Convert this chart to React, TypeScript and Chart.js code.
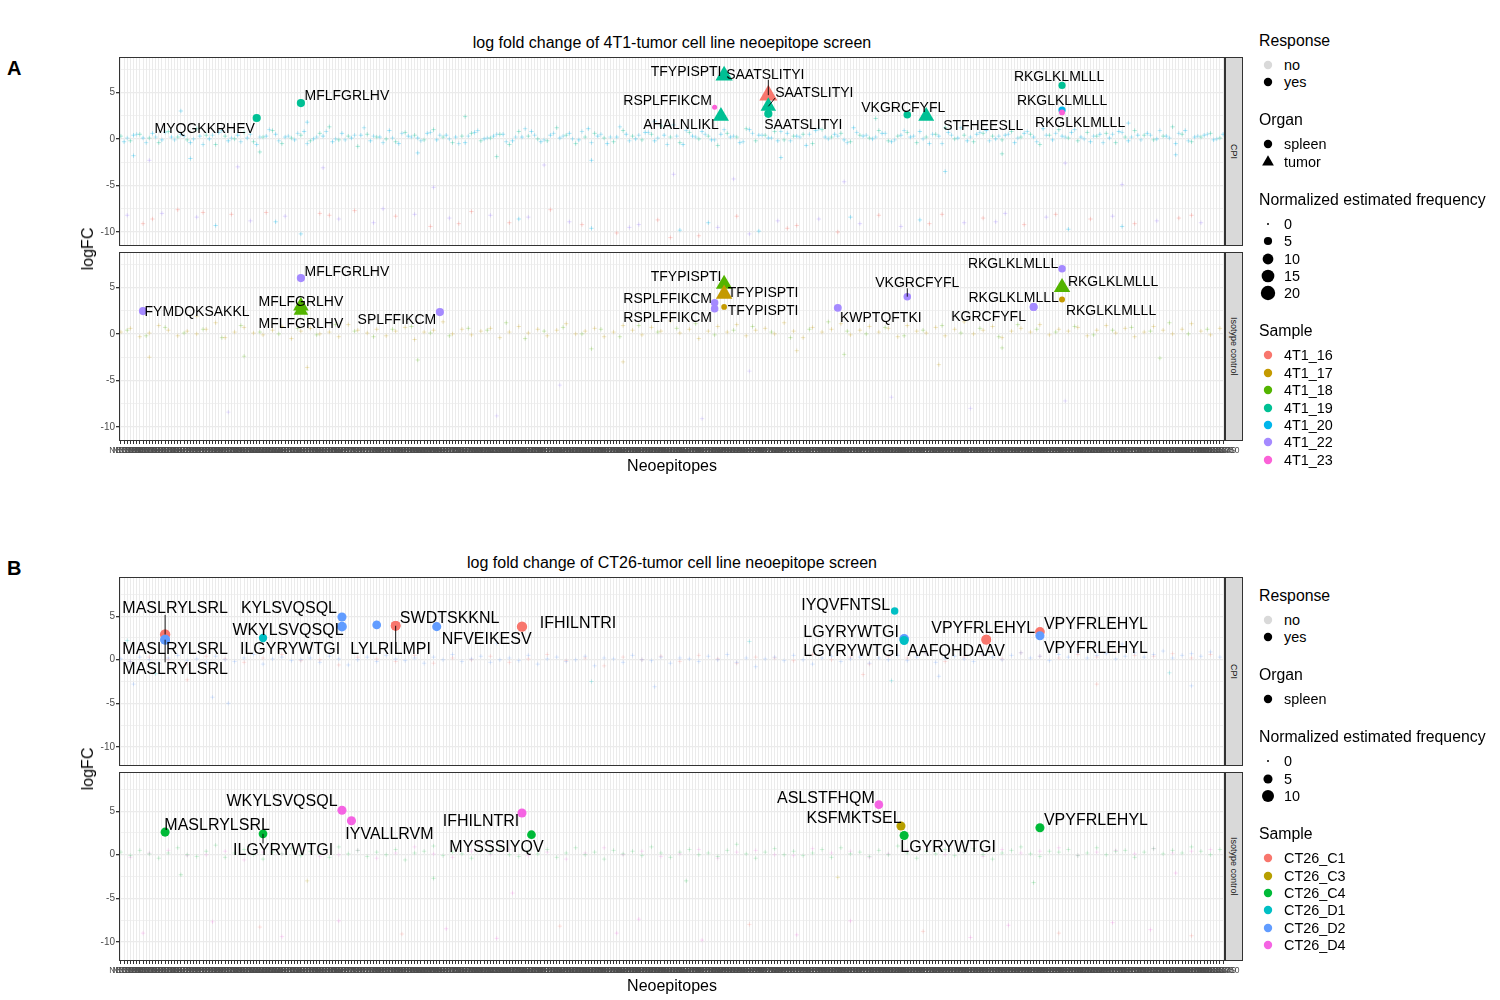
import React, { useEffect, useRef } from "react";
import { Chart, registerables } from "chart.js";

Chart.register(...registerables);

const FONT = '"Liberation Sans", Arial, Helvetica, sans-serif';

// ---------------- categories (neoepitopes on the x axis) ----------------
const N_NEO_A = 350;
const N_NEO_B = 350;

// ---------------- samples ----------------
const samplesA = ["4T1_16", "4T1_17", "4T1_18", "4T1_19", "4T1_20", "4T1_22", "4T1_23"];
const colorsA = ["#F8766D", "#C49A00", "#53B400", "#00C094", "#00B6EB", "#A58AFF", "#FB61D7"];
const samplesB = ["CT26_C1", "CT26_C3", "CT26_C4", "CT26_D1", "CT26_D2", "CT26_D4"];
const colorsB = ["#F8766D", "#B79F00", "#00BA38", "#00BFC4", "#619CFF", "#F564E3"];

const responseLevels = ["no", "yes"];
const organLevelsA = ["spleen", "tumor"];
const organLevelsB = ["spleen"];
const freqBreaksA = [0, 5, 10, 15, 20];
const freqBreaksB = [0, 5, 10];
const yTickValues = [-10, -5, 0, 5];
const yGridValues = [-10, -7.5, -5, -2.5, 0, 2.5, 5, 7.5];

// ---------------- responding neoepitopes: [label, neoepitope index, logFC, sample, organ(0 spleen / 1 tumor), norm. freq] ----------------
const hitsA_CPI: [string, number, number, number, number, number][] = [
  ["MYQGKKRHEV", 44, 2.25, 3, 0, 5],
  ["MFLFGRLHV", 58, 3.85, 3, 0, 5],
  ["TFYPISPTI", 192, 6.8, 3, 1, 18],
  ["SAATSLITYI", 206, 4.7, 0, 1, 20],
  ["SAATSLITYI", 206, 3.5, 3, 1, 14],
  ["SAATSLITYI", 206, 2.7, 3, 0, 5],
  ["RSPLFFIKCM", 189, 3.4, 6, 0, 1.2],
  ["AHALNLIKL", 191, 2.45, 3, 1, 15],
  ["VKGRCFYFL", 250, 2.6, 3, 0, 4],
  ["STFHEESLL", 256, 2.45, 3, 1, 15],
  ["RKGLKLMLLL", 299, 5.75, 3, 0, 3.5],
  ["RKGLKLMLLL", 299, 3.1, 4, 0, 3.5],
  ["RKGLKLMLLL", 299, 2.85, 6, 0, 2],
];
const hitsA_ISO: [string, number, number, number, number, number][] = [
  ["FYMDQKSAKKL", 8, 2.45, 5, 0, 5],
  ["MFLFGRLHV", 58, 6.0, 5, 0, 5],
  ["MFLFGRLHV", 58, 3.0, 2, 1, 14],
  ["MFLFGRLHV", 58, 2.5, 2, 1, 12],
  ["SPLFFIKCM", 102, 2.35, 5, 0, 5],
  ["TFYPISPTI", 192, 5.35, 2, 1, 16],
  ["TFYPISPTI", 192, 4.3, 1, 1, 16],
  ["TFYPISPTI", 192, 2.9, 1, 0, 1.8],
  ["RSPLFFIKCM", 189, 3.35, 5, 0, 4],
  ["RSPLFFIKCM", 189, 2.7, 5, 0, 4],
  ["KWPTQFTKI", 228, 2.8, 5, 0, 4.5],
  ["VKGRCFYFL", 250, 4.0, 5, 0, 4],
  ["RKGLKLMLLL", 290, 2.9, 5, 0, 4.5],
  ["KGRCFYFL", 290, 2.9, 5, 0, 4.5],
  ["RKGLKLMLLL", 299, 7.0, 5, 0, 4],
  ["RKGLKLMLLL", 299, 5.0, 2, 1, 16],
  ["RKGLKLMLLL", 299, 3.7, 1, 0, 2],
];
const hitsB_CPI: [string, number, number, number, number, number][] = [
  ["MASLRYLSRL", 15, 2.9, 0, 0, 7],
  ["MASLRYLSRL", 15, 2.3, 4, 0, 6],
  ["MASLRYLSRL", 15, 2.3, 4, 0, 6],
  ["KYLSVQSQL", 71, 4.9, 4, 0, 5],
  ["WKYLSVQSQL", 71, 3.8, 4, 0, 6],
  ["ILGYRYWTGI", 46, 2.5, 3, 0, 4],
  ["", 82, 4.0, 4, 0, 4.5],
  ["LYLRILMPI", 88, 3.9, 0, 0, 6],
  ["SWDTSKKNL", 88, 3.9, 0, 0, 6],
  ["NFVEIKESV", 101, 3.8, 4, 0, 5],
  ["IFHILNTRI", 128, 3.8, 0, 0, 7],
  ["IYQVFNTSL", 246, 5.6, 3, 0, 3],
  ["LGYRYWTGI", 249, 2.4, 4, 0, 6],
  ["LGYRYWTGI", 249, 2.2, 3, 0, 5],
  ["VPYFRLEHYL", 275, 2.3, 0, 0, 6],
  ["AAFQHDAAV", 275, 2.3, 0, 0, 6],
  ["VPYFRLEHYL", 292, 3.2, 0, 0, 6],
  ["VPYFRLEHYL", 292, 2.75, 4, 0, 5],
];
const hitsB_ISO: [string, number, number, number, number, number][] = [
  ["MASLRYLSRL", 15, 2.6, 2, 0, 5],
  ["ILGYRYWTGI", 46, 2.4, 2, 0, 4.5],
  ["WKYLSVQSQL", 71, 5.1, 5, 0, 5],
  ["IYVALLRVM", 74, 3.9, 5, 0, 5],
  ["IFHILNTRI", 128, 4.8, 5, 0, 5],
  ["MYSSSIYQV", 131, 2.3, 2, 0, 4.5],
  ["ASLSTFHQM", 241, 5.75, 5, 0, 4.5],
  ["KSFMKTSEL", 248, 3.3, 1, 0, 5],
  ["LGYRYWTGI", 249, 2.2, 2, 0, 5],
  ["VPYFRLEHYL", 292, 3.1, 2, 0, 5],
];

// ---------------- label placement (pixel nudges from the point, [dx, dy, segment]) ----------------
const nudgeA_CPI = [[-52, 11, 0], [46, -7, 0], [-38, -4, 0], [-3, -21, 1], [46, -14, 1], [35, 11, 0], [-47, -7, 0], [-40, 9, 0], [-4, -7, 0], [57, 10, 0], [-3, -9, 0], [0, -9, 0], [18, 10, 0]];
const nudgeA_ISO = [[54, 1, 0], [46, -6, 0], [0, -4, 0], [0, 13, 0], [-43, 8, 0], [-38, -7, 0], [39, -1, 0], [39, 4, 0], [-47, -4, 0], [-47, 9, 0], [43, 10, 0], [10, -14, 1], [-20, -9, 0], [-45, 10, 0], [-49, -5, 0], [51, -6, 0], [49, 11, 0]];
const nudgeB_CPI = [[10, -26, 1], [10, 9, 0], [10, 29, 1], [-53, -9, 0], [-54, 3, 0], [27, 11, 0], [0, 0, 0], [-5, 23, 1], [54, -8, 0], [50, 12, 0], [56, -4, 0], [-49, -6, 0], [-53, -7, 0], [-53, 11, 0], [-3, -12, 0], [-30, 11, 0], [56, -8, 0], [56, 12, 0]];
const nudgeB_ISO = [[52, -7, 0], [20, 16, 1], [-60, -9, 0], [38, 13, 0], [-41, 8, 0], [-35, 12, 0], [-53, -7, 0], [-47, -8, 0], [44, 12, 0], [56, -8, 0]];

// ---------------- non-responding neoepitopes (logFC of every 3rd / 6th neoepitope) ----------------
const bgA_CPI_s19 = [0.3,-0.2,0.5,0.1,-0.4,0.8,0.2,-0.1,1.1,0.4,-0.6,0.3,0.0,0.7,-0.3,0.2,0.9,-0.5,0.1,0.4,
-0.2,0.6,1.3,-0.1,0.3,-0.8,0.5,0.2,0.0,-0.3,0.7,0.4,-0.1,1.0,0.2,-0.4,0.3,0.6,-0.2,0.1,
0.5,-0.6,0.8,0.3,0.0,-0.2,1.2,0.4,-0.5,0.2,0.6,0.1,-0.3,0.9,0.3,-0.1,0.5,1.4,0.2,-0.4,
0.7,0.0,0.3,-0.7,0.6,0.2,1.1,-0.2,0.4,0.8,-0.1,0.3,0.5,-0.5,1.0,0.2,0.6,-0.3,0.4,0.1,
0.9,-0.2,0.3,0.7,-0.4,0.2,0.5,1.2,0.0,0.4,-0.3,0.6,0.3,-0.1,0.8,0.2,0.5,-0.6,0.4,1.0,
0.1,-0.2,0.7,0.3,0.6,-0.4,0.2,0.9,0.4,-0.1,0.3,1.3,0.5,-0.3,0.2,0.6,0.1];
const bgA_CPI_s20 = [-0.3,0.4,0.1,0.6,-0.1,0.2,0.5,-0.4,0.3,0.0,0.7,-0.2,0.4,0.1,-0.6,0.3,0.5,0.2,-0.1,0.8,
0.0,0.3,-0.3,0.6,0.1,0.4,-0.2,0.2,0.9,-0.5,0.3,0.1,0.6,-0.1,0.4,0.2,-0.4,0.7,0.0,0.3,
0.5,-0.2,0.2,0.8,-0.3,0.4,0.1,0.6,-0.1,1.1,0.3,-0.5,0.2,0.5,0.0,0.7,-0.2,0.4,1.5,-0.6,
0.3,0.8,-0.1,0.5,0.2,-0.4,1.0,0.4,0.1,-0.2,0.6,0.3,-0.7,0.9,0.2,0.5,-0.1,1.2,0.3,0.0,
0.6,-0.3,0.4,0.2,0.8,-0.5,0.3,0.7,0.1,-0.2,0.5,0.9,0.0,0.4,-0.4,0.6,0.2,1.1,-0.1,0.3,
0.7,0.2,-0.3,0.5,0.1,0.8,-0.2,0.4,0.6,0.0,0.3,-0.5,0.9,0.2,0.4,-0.1,0.5];
const bgA_CPI_s16 = [0.1,0.5,-0.4,0.2,0.7,-0.1,0.3,0.0,-0.6,0.4,0.9,0.1,-0.3,0.5,0.2,1.0,-0.2,0.3,0.6,-0.5,
0.2,0.8,0.0,-0.1,0.4,1.2,0.3,-0.4,0.1,0.6,0.2,-0.2,0.7,0.4,0.0,-0.5,0.3,0.9,0.1,0.5,
-0.3,0.2,1.1,0.4,-0.1,0.6,0.3,0.0,0.8,-0.4,0.5,0.2,1.3,-0.2,0.4,0.7,0.1,-0.6,0.3,0.9,
0.2,0.5,-0.1,1.0,0.3,-0.3,0.6,0.4,0.1,0.8,-0.2,0.2,0.5,1.1,0.0,0.3,-0.4,0.7,0.4,0.2,
0.6,-0.1,0.9,0.3,0.0,0.5,-0.5,0.4,1.2,0.2,0.7,-0.2,0.3,0.5,0.1,0.8,-0.3,0.4,0.6,0.2,
1.0,0.0,0.3,-0.4,0.5,0.7,0.2,-0.1,0.4,0.9,0.1,0.6,-0.2,0.3,0.5,0.0,0.4];
const bgA_CPI_low: [number, number, number][] = [
[3,-8.2,5],[8,-9.1,0],[14,-8.0,5],[19,-7.6,0],[25,-8.4,5],[31,-9.3,4],[36,-8.1,0],[42,-8.8,5],[47,-7.9,0],[53,-8.3,5],
[58,-10.2,4],[64,-8.0,0],[70,-8.6,5],[75,-7.7,0],[81,-9.0,5],[88,-8.3,0],[94,-8.1,5],[99,-9.4,0],[105,-8.5,5],[112,-7.8,0],
[118,-8.2,5],[124,-9.0,0],[130,-8.4,5],[137,-7.6,0],[143,-8.9,5],[150,-9.6,4],[158,-10.1,0],[165,-9.2,5],[171,-8.7,0],[178,-9.8,4],
[184,-10.4,0],[190,-9.5,5],[196,-8.3,0],[203,-9.9,4],[209,-8.8,5],[215,-9.3,0],[222,-8.6,5],[228,-10.0,0],[235,-9.1,5],[241,-8.2,0],
[248,-9.4,5],[254,-8.7,4],[261,-8.1,0],[268,-9.0,5],[274,-8.5,0],[281,-8.0,5],[287,-9.2,0],[294,-8.4,5],[301,-9.7,4],[308,-8.6,0],
[315,-8.3,5],[322,-9.1,0],[329,-8.8,5],[336,-8.5,0],[343,-9.0,5],
[11,-8.6,0],[27,-7.9,0],[50,-8.9,4],[67,-8.2,0],[84,-7.5,5],[108,-9.1,0],[127,-8.6,4],[147,-9.2,0],[162,-9.5,5],[175,-10.6,0],
[187,-9.0,4],[200,-10.2,5],[212,-9.6,0],[232,-8.4,4],[257,-9.1,0],[278,-8.9,5],[297,-8.1,0],[318,-9.4,4],[340,-8.2,0]];
const bgA_CPI_mid: [number, number, number][] = [
[10,-2.3,5],[23,-2.1,4],[38,-3.0,5],[65,-3.1,5],[95,-1.5,4],[100,-5.2,5],[135,-2.8,5],[150,-2.3,4],[176,-3.8,5],[195,-4.3,5],
[230,-4.6,5],[262,-3.5,4],[300,-2.6,5],[318,-4.9,5],[5,-1.8,4],[45,-1.4,3],[120,-1.9,3],[210,-2.0,4],[280,-1.6,3],[335,-1.7,4],
[20,3.0,4],[60,1.8,4],[110,2.4,3],[170,1.9,4],[240,2.2,3],[320,1.7,4]];

const bgA_ISO_s17 = [0.2,0.6,-0.3,0.1,0.9,0.4,-0.2,0.3,0.0,0.5,1.2,-0.4,0.2,0.7,0.1,-0.1,0.4,0.8,-0.5,0.3,
0.6,0.0,0.2,-0.3,1.0,0.4,0.1,0.5,-0.2,0.3,0.7,-0.6,0.2,0.4,1.3,0.0,0.5,-0.1,0.3,0.6,
-0.4,0.2,0.8,0.1,0.5,-0.2,0.4,1.1,0.0,0.3,0.6,-0.3,0.2,0.9,0.4,-0.1,0.7,0.3,1.4,0.1,
0.5,-0.5,0.3,0.8,0.2,1.0,-0.2,0.4,0.6,0.0,1.2,0.3,-0.4,0.7,0.2,0.5,1.1,-0.1,0.4,0.8,
0.2,0.6,-0.3,0.9,0.3,0.1,0.7,-0.2,0.5,1.3,0.0,0.4,0.8,-0.4,0.3,0.6,0.2,1.0,-0.1,0.5,
0.3,0.7,-0.2,0.4,0.9,0.1,0.6,-0.3,0.2,0.8,0.4,0.0,0.5,1.1,0.3,-0.1,0.6];
const bgA_ISO_s18 = [0.4,-0.2,0.7,0.1,0.5,-0.4,0.9,0.2,0.0,0.6,-0.1,1.0,0.3,-0.3,0.5,0.8,0.1,-0.2,0.6,0.4,
1.2,-0.5,0.3,0.7,0.0,0.5,-0.3,0.9,0.2,0.6,1.1,-0.1,0.4,0.8,0.2,-0.4,0.5,1.3,0.3,0.0,
0.7,-0.2,0.4,0.9,0.1,0.6,-0.3,1.0,0.5,0.2,0.8,-0.1,0.4,0.7,0.3,1.2,0.0,0.5];
const bgA_ISO_low: [number, number, number][] = [
[10,-2.5,1],[40,-2.4,2],[60,-3.6,1],[95,-2.8,2],[140,-5.5,5],[160,-3.0,1],[200,-4.0,5],[230,-2.2,2],[245,-6.8,5],[260,-3.3,1],
[300,-7.2,5],[330,-2.6,2],[35,-8.4,5],[120,-8.8,5],[185,-9.1,5],[270,-8.0,5],[150,-1.6,2],[215,-1.8,1],[280,-1.5,2],[25,1.9,1]];

const bgB_CPI_d2 = [0.1,-0.2,0.3,0.0,-0.4,0.2,0.5,-0.1,0.1,-0.3,0.4,0.0,-0.2,0.2,0.6,-0.5,0.1,0.3,-0.1,0.0,
0.2,-0.3,0.4,0.1,-0.6,0.0,0.3,-0.2,0.5,0.1,-0.1,0.2,-0.4,0.3,0.0,0.6,-0.2,0.1,0.4,-0.3,
0.0,0.2,-0.1,0.5,-0.5,0.1,0.3,-0.2,0.0,0.4,-0.7,0.2,0.1,-0.3,0.5,0.0,-0.1,0.3,-0.4,0.2,
0.1,-0.2,0.4,0.0,0.6,-0.3,0.2,-0.8,0.1,0.3,-0.1,0.5,0.0,-0.5,0.2,0.4,-0.2,0.1,0.3,-0.4,
0.2,0.0,0.5,-0.1,0.3,0.7,-0.3,0.2,0.4,0.1,-0.2,0.6,0.3,0.0,0.5,0.8,0.2,0.4,-0.1,0.6,
0.3,0.9,0.2,0.5,0.7,0.1,0.4,0.8,0.3,0.6,1.0,0.2,0.5,0.7,0.4,0.9,0.3];
const bgB_CPI_c1 = [-0.2,0.3,0.0,-0.5,0.4,0.1,-0.3,0.2,0.6,-0.1,0.0,-0.6,0.3,0.1,-0.2,0.5,-0.4,0.2,0.0,0.4,
-0.3,0.1,0.6,-0.1,0.2,-0.7,0.3,0.0,0.4,-0.2,0.5,0.1,-0.4,0.3,0.2,-0.1,0.6,0.0,0.3,-0.5,
0.4,0.2,0.7,-0.2,0.3,0.5,0.1,0.8,0.4,0.2,0.6,0.3,0.9,0.5,0.4,0.7,0.2,0.6];
const bgB_CPI_low: [number, number, number][] = [
[5,-2.8,4],[12,-1.6,3],[30,-4.3,4],[22,-2.3,0],[35,-5.0,4],[150,-2.5,3],[170,-3.1,4],[236,-1.7,0],[245,-2.4,3],[260,-1.9,4],
[310,-2.8,0],[333,-1.5,3],[340,-3.0,4],[3,2.2,3],[120,1.9,4],[200,2.1,3],[318,1.8,4]];

const bgB_ISO_c4 = [0.3,-0.1,0.5,0.1,-0.4,0.2,0.8,0.0,-0.2,0.4,1.1,-0.3,0.2,0.6,0.0,-0.5,0.3,0.1,0.7,-0.1,
0.4,0.2,-0.3,0.9,0.1,0.5,-0.2,0.3,0.0,0.6,-0.6,0.2,0.4,1.0,-0.1,0.3,0.1,-0.4,0.5,0.2,
0.7,0.0,-0.2,0.4,0.1,0.6,-0.3,0.2,0.8,0.0,0.3,-0.5,0.5,0.1,0.4,-0.1,0.9,0.2,-0.3,0.3,
0.6,0.0,0.2,-0.2,0.5,1.2,0.1,-0.4,0.3,0.7,0.0,0.4,-0.1,0.2,0.6,-0.3,0.8,0.1,0.3,-0.2,
0.5,0.0,1.0,0.2,-0.4,0.4,0.1,0.6,-0.1,0.3,0.7,0.0,-0.5,0.2,0.5,0.9,0.1,-0.2,0.4,0.3,
0.6,-0.1,0.2,0.8,0.0,0.4,0.5,-0.3,0.3,0.7,0.1,0.5,0.2,0.9,0.4,0.0,0.6];
const bgB_ISO_d4 = [-0.3,0.2,0.5,-0.1,0.0,0.4,-0.6,0.3,0.1,0.7,-0.2,0.0,0.5,-0.4,0.2,0.9,0.1,-0.3,0.4,0.0,
0.6,-0.1,0.3,-0.5,0.2,0.8,0.0,0.4,-0.2,0.1,0.6,-0.4,0.3,0.5,0.0,-0.1,0.7,0.2,0.4,-0.3,
0.1,0.5,0.9,0.0,0.3,-0.2,0.6,0.2,0.4,0.8,-0.1,0.3,0.5,0.1,0.7,0.2,0.4,0.6];
const bgB_ISO_low: [number, number, number][] = [
[8,-9.0,5],[30,-7.7,5],[45,-8.3,0],[52,-9.4,5],[70,-7.6,5],[90,-9.1,0],[104,-8.5,5],[120,-9.6,5],[140,-8.2,0],[158,-9.0,5],
[165,-7.4,5],[185,-9.8,5],[200,-8.0,0],[215,-9.2,5],[232,-7.6,5],[255,-8.8,0],[270,-9.5,5],[282,-8.1,5],[298,-9.0,0],[315,-7.8,5],
[327,-8.6,5],[340,-9.3,0],[20,-2.3,2],[60,-3.0,1],[100,-2.7,2],[125,-4.4,5],[180,-3.0,2],[228,-2.6,1],[290,-3.2,2],[335,-2.1,5]];

// ---------------- helpers ----------------
function rgba(hex: string, a: number) {
  const n = parseInt(hex.slice(1), 16);
  return `rgba(${(n >> 16) & 255},${(n >> 8) & 255},${n & 255},${a})`;
}

type Band = { vals: number[]; start: number; stride: number; s: number; a: number };

const TRIANGLE_SCALE = 1.45;

function Facet(props: any) {
  const ref = useRef<HTMLCanvasElement>(null);
  const { top, h, n, ymin, ymax, showX, hits, nudges, colors, bands, scatter, labelSize, rMax, fMax, bgAlpha } = props;
  const xAxisH = showX ? 20 : 0;
  const W = 1250;
  const H = h + 2 + xAxisH;
  useEffect(() => {
    const canvas = ref.current!;
    const radius = (f: number, organ: number) => (1 + (rMax - 1) * Math.sqrt(f / fMax)) * (organ ? TRIANGLE_SCALE : 1);
    const datasets: any[] = [];
    datasets.push({
      data: hits.map((t: any) => ({ x: t[1], y: t[2] })),
      pointStyle: hits.map((t: any) => (t[4] ? "triangle" : "circle")),
      pointRadius: hits.map((t: any) => radius(t[5], t[4])),
      pointBackgroundColor: hits.map((t: any) => colors[t[3]]),
      pointBorderWidth: 0,
      pointBorderColor: "rgba(0,0,0,0)",
      showLine: false,
    });
    bands.forEach((b: Band) => {
      datasets.push({
        data: b.vals.map((v, i) => ({ x: b.start + i * b.stride, y: v })),
        pointStyle: "cross",
        pointRadius: 2.2,
        pointBorderWidth: 1,
        pointBorderColor: rgba(colors[b.s], b.a),
        showLine: false,
      });
    });
    datasets.push({
      data: scatter.map((t: any) => ({ x: t[0], y: t[1] })),
      pointStyle: "cross",
      pointRadius: 2.2,
      pointBorderWidth: 1,
      pointBorderColor: scatter.map((t: any) => rgba(colors[t[2]], bgAlpha)),
      showLine: false,
    });

    const overlay = {
      id: "overlay",
      afterDatasetsDraw(chart: any) {
        const ctx = chart.ctx;
        const xs = chart.scales.x;
        const ys = chart.scales.y;
        ctx.save();
        ctx.font = `${labelSize}px ${FONT}`;
        ctx.textAlign = "center";
        ctx.textBaseline = "middle";
        hits.forEach((t: any, i: number) => {
          const lab = t[0];
          if (!lab) return;
          const [dx, dy, seg] = nudges[i];
          const px = xs.getPixelForValue(t[1]);
          const py = ys.getPixelForValue(t[2]);
          const lx = px + dx;
          const ly = py + dy;
          if (seg) {
            const w = ctx.measureText(lab).width;
            const hh = labelSize * 0.8;
            const cx = Math.max(lx - w / 2, Math.min(px, lx + w / 2));
            const cy = Math.max(ly - hh / 2, Math.min(py, ly + hh / 2));
            ctx.strokeStyle = "#000";
            ctx.lineWidth = 0.9;
            ctx.beginPath();
            ctx.moveTo(px, py);
            ctx.lineTo(cx, cy);
            ctx.stroke();
          }
          ctx.fillStyle = "#000";
          ctx.fillText(lab, lx, ly + 0.5);
        });
        const a = chart.chartArea;
        ctx.strokeStyle = "#333333";
        ctx.lineWidth = 1;
        ctx.strokeRect(a.left + 0.5, a.top + 0.5, a.right - a.left - 1, a.bottom - a.top - 1);
        ctx.restore();
      },
    };

    const chart = new Chart(canvas, {
      type: "scatter",
      data: { datasets },
      options: {
        animation: false,
        responsive: false,
        devicePixelRatio: 1,
        events: [],
        layout: { autoPadding: false, padding: { top: 1, bottom: 1, left: 0, right: W - 1225 } },
        plugins: { legend: { display: false }, tooltip: { enabled: false } },
        scales: {
          x: {
            type: "linear",
            min: 0.4,
            max: n + 0.6,
            afterFit: (s: any) => {
              s.height = xAxisH;
              s.paddingLeft = 0;
              s.paddingRight = 0;
              s.paddingTop = 0;
              s.paddingBottom = 0;
            },
            afterBuildTicks: (s: any) => {
              s.ticks = Array.from({ length: n }, (_, i) => ({ value: i + 1 }));
            },
            border: { display: false },
            grid: { color: "#EBEBEB", lineWidth: 1, drawTicks: showX, tickLength: 3, tickColor: "#333333" },
            ticks: {
              display: showX,
              autoSkip: false,
              maxRotation: 0,
              minRotation: 0,
              padding: 2,
              font: { family: FONT, size: 8.5 },
              color: "#4D4D4D",
              callback: (v: any) => "NEO" + v,
            },
          },
          y: {
            type: "linear",
            min: ymin,
            max: ymax,
            afterFit: (s: any) => {
              s.width = 119;
              s.paddingTop = 0;
              s.paddingBottom = 0;
              s.paddingLeft = 0;
              s.paddingRight = 0;
            },
            afterBuildTicks: (s: any) => {
              s.ticks = yGridValues.map((v) => ({ value: v }));
            },
            border: { display: false },
            grid: {
              color: "#EBEBEB",
              lineWidth: (c: any) => (c.tick && yTickValues.includes(c.tick.value) ? 1.3 : 0.7),
              drawTicks: true,
              tickLength: 3,
              tickColor: (c: any) => (c.tick && yTickValues.includes(c.tick.value) ? "#333333" : "rgba(0,0,0,0)"),
            },
            ticks: {
              autoSkip: false,
              padding: 1,
              font: { family: FONT, size: 10 },
              color: "#4D4D4D",
              callback: (v: any) => (yTickValues.includes(v) ? String(v) : ""),
            },
          },
        },
      } as any,
      plugins: [overlay],
    });
    return () => chart.destroy();
  }, []);
  return (
    <canvas
      ref={ref}
      width={W}
      height={H}
      style={{ position: "absolute", left: 0, top: top - 1, width: W, height: H }}
    />
  );
}

function Txt({ x, y, children, size = 14, anchor = "left", weight = 400, rotate = 0 }: any) {
  const tx = anchor === "center" ? "-50%" : "0";
  return (
    <div
      style={{
        position: "absolute",
        left: x,
        top: y,
        transform: `translate(${tx}, -50%) rotate(${rotate}deg)`,
        fontSize: size,
        fontFamily: FONT,
        fontWeight: weight,
        lineHeight: 1,
        whiteSpace: "nowrap",
        color: "#000",
      }}
    >
      {children}
    </div>
  );
}

function Strip({ top, h, text }: any) {
  return (
    <div
      style={{
        position: "absolute",
        left: 1225,
        top,
        width: 18,
        height: h,
        boxSizing: "border-box",
        background: "#D9D9D9",
        border: "1px solid #333333",
        display: "flex",
        alignItems: "center",
        justifyContent: "center",
      }}
    >
      <span style={{ writingMode: "vertical-rl", fontSize: 9, fontFamily: FONT, color: "#1A1A1A", whiteSpace: "nowrap" }}>{text}</span>
    </div>
  );
}

function Sym({ y, shape, r, color }: any) {
  return (
    <svg style={{ position: "absolute", left: 1258, top: y - 10 }} width={20} height={20}>
      {shape === "triangle" ? (
        <polygon points={`10,${10 - r} ${10 + r * 0.866},${10 + r * 0.5} ${10 - r * 0.866},${10 + r * 0.5}`} fill={color} />
      ) : (
        <circle cx={10} cy={10} r={r} fill={color} />
      )}
    </svg>
  );
}

function Legend({ top, organs, freqBreaks, samples, colors, rMax, fMax }: any) {
  const els: any[] = [];
  let y = top;
  const groups: any[] = [
    ["Response", responseLevels.map((l, i) => ({ text: l, shape: "circle", r: 4.2, color: i === 0 ? "#D9D9D9" : "#000" }))],
    ["Organ", organs.map((o: string) => ({ text: o, shape: o === "tumor" ? "triangle" : "circle", r: o === "tumor" ? 6.8 : 4.2, color: "#000" }))],
    ["Normalized estimated frequency", freqBreaks.map((f: number) => ({ text: String(f), shape: "circle", r: 1 + (rMax - 1) * Math.sqrt(f / fMax), color: "#000" }))],
    ["Sample", samples.map((s: string, i: number) => ({ text: s, shape: "circle", r: 4.2, color: colors[i] }))],
  ];
  groups.forEach(([title, entries], gi) => {
    els.push(<Txt key={"t" + gi} x={1259} y={y} size={15.8}>{title}</Txt>);
    let yy = y + 24;
    entries.forEach((e: any, i: number) => {
      els.push(<Sym key={`s${gi}_${i}`} y={yy} shape={e.shape} r={e.r} color={e.color} />);
      els.push(<Txt key={`l${gi}_${i}`} x={1284} y={yy} size={14.4}>{e.text}</Txt>);
      if (i < entries.length - 1) yy += 17.4;
    });
    y = yy + 38;
  });
  return <>{els}</>;
}

export default function App() {
  const bandsA_CPI: Band[] = [
    { vals: bgA_CPI_s19, start: 1, stride: 3, s: 3, a: 0.3 },
    { vals: bgA_CPI_s20, start: 2, stride: 3, s: 4, a: 0.32 },
    { vals: bgA_CPI_s16, start: 3, stride: 3, s: 4, a: 0.25 },
  ];
  const bandsA_ISO: Band[] = [
    { vals: bgA_ISO_s17, start: 1, stride: 3, s: 1, a: 0.24 },
    { vals: bgA_ISO_s18, start: 3, stride: 6, s: 2, a: 0.24 },
  ];
  const bandsB_CPI: Band[] = [
    { vals: bgB_CPI_d2, start: 1, stride: 3, s: 4, a: 0.2 },
    { vals: bgB_CPI_c1, start: 4, stride: 6, s: 0, a: 0.18 },
  ];
  const bandsB_ISO: Band[] = [
    { vals: bgB_ISO_c4, start: 1, stride: 3, s: 2, a: 0.16 },
    { vals: bgB_ISO_d4, start: 4, stride: 6, s: 5, a: 0.16 },
  ];
  const common = { h: 189 };
  return (
    <div style={{ position: "absolute", left: 0, top: 0, width: 1500, height: 1000, background: "#fff", overflow: "hidden" }}>
      {/* Panel A */}
      <Txt x={7} y={68} size={20} weight={700}>A</Txt>
      <Txt x={672} y={43} size={16} anchor="center">log fold change of 4T1-tumor cell line neoepitope screen</Txt>
      <Facet {...common} top={57} n={N_NEO_A} ymin={-11.5} ymax={8.8} showX={false} hits={hitsA_CPI} nudges={nudgeA_CPI}
        colors={colorsA} bands={bandsA_CPI} scatter={[...bgA_CPI_low, ...bgA_CPI_mid]} labelSize={14} rMax={7.2} fMax={20} bgAlpha={0.3} />
      <Strip top={57} h={189} text="CPI" />
      <Facet {...common} top={252} n={N_NEO_A} ymin={-11.5} ymax={8.8} showX={true} hits={hitsA_ISO} nudges={nudgeA_ISO}
        colors={colorsA} bands={bandsA_ISO} scatter={bgA_ISO_low} labelSize={14} rMax={7.2} fMax={20} bgAlpha={0.22} />
      <Strip top={252} h={189} text="Isotype control" />
      <Txt x={88} y={249} size={16} anchor="center" rotate={-90}>logFC</Txt>
      <Txt x={672} y={466} size={16} anchor="center">Neoepitopes</Txt>
      <Legend top={41} organs={organLevelsA} freqBreaks={freqBreaksA} samples={samplesA} colors={colorsA} rMax={7.2} fMax={20} />

      {/* Panel B */}
      <Txt x={7} y={568} size={20} weight={700}>B</Txt>
      <Txt x={672} y={563} size={16} anchor="center">log fold change of CT26-tumor cell line neoepitope screen</Txt>
      <Facet {...common} top={577} n={N_NEO_B} ymin={-12.2} ymax={9.5} showX={false} hits={hitsB_CPI} nudges={nudgeB_CPI}
        colors={colorsB} bands={bandsB_CPI} scatter={bgB_CPI_low} labelSize={16} rMax={6} fMax={10} bgAlpha={0.2} />
      <Strip top={577} h={189} text="CPI" />
      <Facet {...common} top={772} n={N_NEO_B} ymin={-12.2} ymax={9.5} showX={true} hits={hitsB_ISO} nudges={nudgeB_ISO}
        colors={colorsB} bands={bandsB_ISO} scatter={bgB_ISO_low} labelSize={16} rMax={6} fMax={10} bgAlpha={0.2} />
      <Strip top={772} h={189} text="Isotype control" />
      <Txt x={88} y={769} size={16} anchor="center" rotate={-90}>logFC</Txt>
      <Txt x={672} y={986} size={16} anchor="center">Neoepitopes</Txt>
      <Legend top={596} organs={organLevelsB} freqBreaks={freqBreaksB} samples={samplesB} colors={colorsB} rMax={6} fMax={10} />
    </div>
  );
}
